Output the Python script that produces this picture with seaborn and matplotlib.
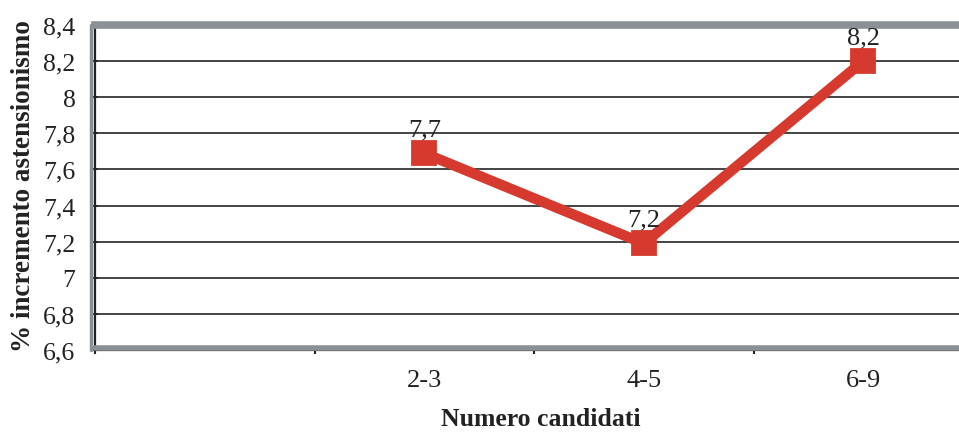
import matplotlib
matplotlib.use("Agg")
import matplotlib.pyplot as plt
from matplotlib.lines import Line2D
from matplotlib.ticker import FuncFormatter
import seaborn as sns
import pandas as pd

# categories on the x axis (the first slot is empty in the original)
categories = ["", "2-3", "4-5", "6-9"]
groups = ["2-3", "4-5", "6-9"]
values = [7.69, 7.19, 8.2]
value_labels = ["7,7", "7,2", "8,2"]
y_ticks = [6.6, 6.8, 7.0, 7.2, 7.4, 7.6, 7.8, 8.0, 8.2, 8.4]

RED = "#d63a2f"
GRAY = "#8a9196"

sns.set_theme(style="white")
plt.rcParams["font.family"] = ["Liberation Serif", "DejaVu Serif"]

fig = plt.figure(figsize=(9.59, 4.35), dpi=100)
W, H = 959, 435
# plot area runs past the right edge of the picture, as in the reference
ax = fig.add_axes([95 / W, 1 - 351 / H, 878 / W, 325 / H])

df = pd.DataFrame({"gruppo": groups, "valore": values})
sns.pointplot(data=df, x="gruppo", y="valore", order=categories,
              color=RED, markers="s", markersize=13, linewidth=7.5,
              errorbar=None, ax=ax, zorder=5)

for i, (g, v, lab) in enumerate(zip(groups, values, value_labels)):
    ax.annotate(lab, (categories.index(g), v), xytext=(0, 13),
                textcoords="offset points", ha="center", va="baseline",
                fontsize=19, color="#222222", zorder=6)

ax.set_xlim(-0.5, len(categories) - 0.5)
ax.set_ylim(y_ticks[0], y_ticks[-1])
ax.set_yticks(y_ticks)
ax.yaxis.set_major_formatter(FuncFormatter(
    lambda v, p: f"{v:g}".replace(".", ",")))
ax.yaxis.grid(True, color="#111111", linewidth=1.1)
ax.xaxis.grid(False)

# labels in the middle of each slot, small tick marks between slots
ax.set_xticks(range(len(categories)))
ax.set_xticklabels(categories)
ax.set_xticks([i - 0.5 for i in range(len(categories))], minor=True)
ax.tick_params(axis="x", which="major", length=0, pad=14, labelsize=19,
               labelcolor="#222222")
ax.tick_params(axis="x", which="minor", length=3, width=1.5,
               direction="out", color="#222222", bottom=True)
ax.tick_params(axis="y", length=4, width=1.2, direction="inout", left=True,
               pad=12, labelsize=18.5, labelcolor="#222222", color="#222222")
ax.set_xlabel("")
ax.set_ylabel("")

# frame: thick gray top, gray band inside the black left/bottom axis lines
for side in ["left", "bottom"]:
    ax.spines[side].set_color("#222222")
    ax.spines[side].set_linewidth(1.6)
ax.spines["right"].set_visible(False)
ax.spines["top"].set_color(GRAY)
ax.spines["top"].set_linewidth(5.5)
ax.add_line(Line2D([0, 1], [0.007, 0.007], transform=ax.transAxes,
                   color=GRAY, linewidth=4, clip_on=False, zorder=4))
ax.add_line(Line2D([-0.004, -0.004], [0, 1], transform=ax.transAxes,
                   color=GRAY, linewidth=2.5, clip_on=False, zorder=1))

fig.text(24 / W, 1 - 186 / H, "% incremento astensionismo", rotation=90,
         ha="center", va="center", fontsize=19.5, fontweight="bold",
         color="#222222")
fig.text(541 / W, 1 - 420 / H, "Numero candidati", ha="center",
         va="center", fontsize=18.5, fontweight="bold", color="#222222")

fig.savefig("out.png", dpi=100)
